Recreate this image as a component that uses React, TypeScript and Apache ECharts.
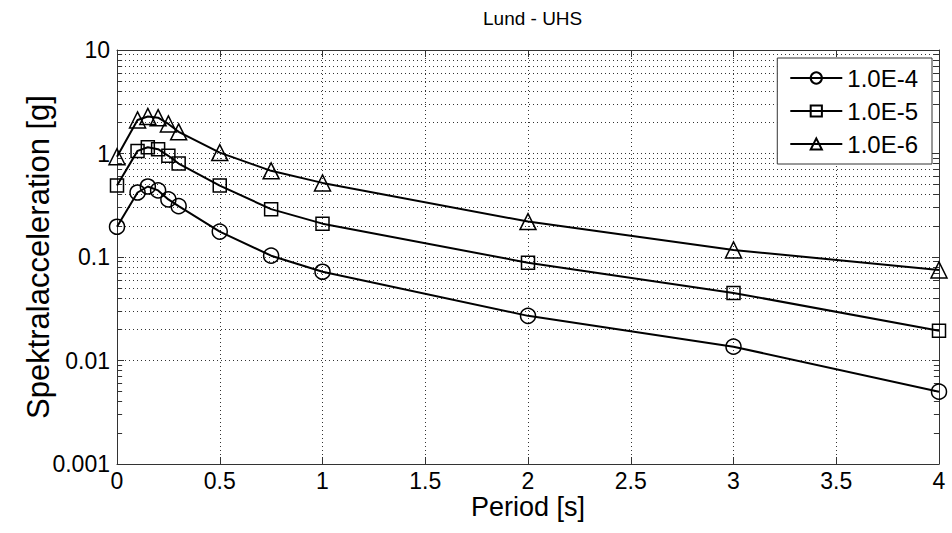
import React, { useEffect, useRef } from "react";
import * as echarts from "echarts";

const periods = [0, 0.1, 0.15, 0.2, 0.25, 0.3, 0.5, 0.75, 1, 2, 3, 4];
const sa1e4 = [0.196, 0.42, 0.48, 0.44, 0.36, 0.31, 0.176, 0.103, 0.072, 0.027, 0.0136, 0.005];
const sa1e5 = [0.49, 1.06, 1.15, 1.1, 0.95, 0.8, 0.49, 0.29, 0.21, 0.088, 0.045, 0.0194];
const sa1e6 = [0.93, 2.11, 2.28, 2.22, 1.93, 1.62, 1.02, 0.68, 0.52, 0.22, 0.117, 0.075];
const seriesNames = ["1.0E-4", "1.0E-5", "1.0E-6"];
const yTickLabels = ["0.001", "0.01", "0.1", "1", "10"];
const decades = [0.001, 0.01, 0.1, 1];
const minorFactors = [2, 3, 4, 5, 6, 7, 8, 9];

const FONT = "Liberation Sans, Arial, Helvetica, sans-serif";

export default function App() {
  const ref = useRef<HTMLDivElement>(null);
  useEffect(() => {
    if (!ref.current) return;
    const chart = echarts.init(ref.current, undefined, { renderer: "svg" });
    const minorVals: number[] = [];
    decades.forEach((d) => minorFactors.forEach((f) => minorVals.push(+(d * f).toPrecision(3))));
    const gridDot = { color: "#333", width: 1, type: [1, 3] as any };
    const markData: any[] = [];
    minorVals.forEach((v) => {
      markData.push({ yAxis: v, lineStyle: gridDot });
      markData.push([
        { coord: [0, v], lineStyle: { color: "#333", width: 1, type: "solid" } },
        { coord: [0.025, v] },
      ]);
      markData.push([
        { coord: [3.975, v], lineStyle: { color: "#333", width: 1, type: "solid" } },
        { coord: [4, v] },
      ]);
    });
    const mk = (name: string, vals: number[], symbol: string, size: number, withMark: boolean) => ({
      name,
      type: "line",
      data: periods.map((p, i) => [p, vals[i]]),
      symbol,
      symbolSize: size,
      showSymbol: true,
      lineStyle: { color: "#000", width: 2 },
      itemStyle: { color: "rgba(255,255,255,0)", borderColor: "#000", borderWidth: 1.5 },
      z: 3,
      markLine: withMark
        ? {
            silent: true,
            symbol: "none",
            label: { show: false },
            animation: false,
            z: 1,
            data: markData,
          }
        : undefined,
    });
    const labelFor = (v: number) => {
      const hit = yTickLabels.find((l) => Math.abs(Math.log10(+l) - Math.log10(v)) < 0.01);
      return hit ?? "";
    };
    chart.setOption({
      animation: false,
      title: {
        text: "Lund - UHS",
        left: 478,
        top: 4,
        textStyle: { fontFamily: FONT, fontSize: 19, fontWeight: "normal", color: "#000" },
      },
      grid: { left: 117, right: 13, top: 50, bottom: 69 },
      legend: {
        orient: "vertical",
        right: 20,
        top: 58,
        data: seriesNames,
        backgroundColor: "#fff",
        borderColor: "#333",
        borderWidth: 1,
        padding: [8, 14, 8, 12],
        itemGap: 9,
        itemWidth: 52,
        itemHeight: 14,
        textStyle: { fontFamily: FONT, fontSize: 24, color: "#000" },
      },
      xAxis: [
        {
          type: "value",
          min: 0,
          max: 4,
          interval: 0.5,
          name: "Period [s]",
          nameLocation: "middle",
          nameGap: 30,
          nameMoveOverlap: false,
          nameTextStyle: { fontFamily: FONT, fontSize: 27, lineHeight: 26, color: "#000" },
          axisLine: { show: true, onZero: false, lineStyle: { color: "#333", width: 1 } },
          axisTick: { show: true, inside: true, length: 7, lineStyle: { color: "#333" } },
          axisLabel: { fontFamily: FONT, fontSize: 23, lineHeight: 22, color: "#000", margin: 6 },
          splitLine: { show: true, lineStyle: gridDot },
        },
        {
          type: "value",
          position: "top",
          min: 0,
          max: 4,
          interval: 0.5,
          axisLine: { show: true, onZero: false, lineStyle: { color: "#333", width: 1 } },
          axisTick: { show: true, inside: true, length: 7, lineStyle: { color: "#333" } },
          axisLabel: { show: false },
          splitLine: { show: false },
        },
      ],
      yAxis: [
        {
          type: "log",
          logBase: 10,
          min: 0.001,
          max: 10,
          name: "Spektralacceleration [g]",
          nameLocation: "middle",
          nameGap: 63,
          nameMoveOverlap: false,
          nameTextStyle: { fontFamily: FONT, fontSize: 31, color: "#000" },
          axisLine: { show: true, onZero: false, lineStyle: { color: "#333", width: 1 } },
          axisTick: { show: true, inside: true, length: 7, lineStyle: { color: "#333" } },
          axisLabel: { fontFamily: FONT, fontSize: 23, color: "#000", margin: 7, formatter: labelFor },
          splitLine: { show: true, lineStyle: gridDot },
        },
        {
          type: "log",
          logBase: 10,
          min: 0.001,
          max: 10,
          position: "right",
          axisLine: { show: true, onZero: false, lineStyle: { color: "#333", width: 1 } },
          axisTick: { show: true, inside: true, length: 7, lineStyle: { color: "#333" } },
          axisLabel: { show: false },
          splitLine: { show: false },
        },
      ],
      series: [
        mk(seriesNames[0], sa1e4, "circle", 15, true),
        mk(seriesNames[1], sa1e5, "rect", 13, false),
        mk(seriesNames[2], sa1e6, "triangle", 16, false),
      ],
    });
    return () => chart.dispose();
  }, []);
  return <div ref={ref} style={{ width: 952, height: 533, position: "absolute", left: 0, top: 0, background: "#fff" }} />;
}
